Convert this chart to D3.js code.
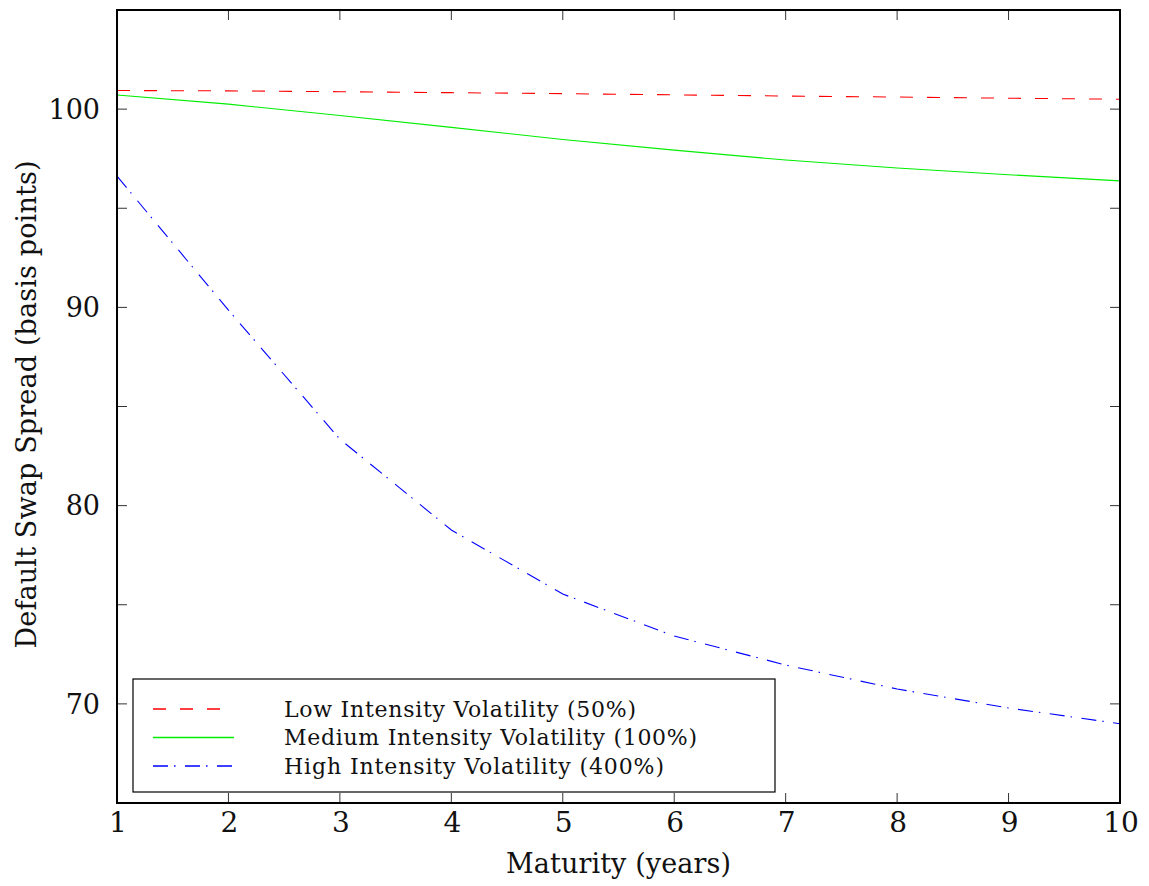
<!DOCTYPE html>
<html>
<head>
<meta charset="utf-8">
<script src="https://cdn.jsdelivr.net/npm/d3@7"></script>
<style>
  body { margin: 0; background: #fff; }
</style>
</head>
<body>
<div id="chart"></div>
<script>
// maturities (years)
const maturity = [1, 2, 3, 4, 5, 6, 7, 8, 9, 10];
// spreads in basis points
const lowVol = [100.94, 100.92, 100.88, 100.83, 100.78, 100.72, 100.66, 100.61, 100.55, 100.50];
const medVol = [100.71, 100.25, 99.68, 99.08, 98.47, 97.93, 97.43, 97.03, 96.69, 96.38];
const highVol = [96.62, 89.86, 83.35, 78.77, 75.54, 73.42, 71.96, 70.75, 69.79, 69.0];

const seriesNames = [
    "Low Intensity Volatility (50%)",
    "Medium Intensity Volatility (100%)",
    "High Intensity Volatility (400%)"
];
const yTickLabels = [70, 80, 90, 100];

const W = 1149, H = 886;
const m = { left: 117, right: 1120, top: 10, bottom: 803 };
const FONT = "'DejaVu Serif', 'Liberation Serif', serif";

const svg = d3.select("#chart").append("svg")
    .attr("width", W).attr("height", H)
    .attr("font-family", FONT);

var x = d3.scaleLinear().domain([1, 10]).range([m.left, m.right]);
var y = d3.scaleLinear().domain([65, 105]).range([m.bottom, m.top]);

// line styles
const styles = [
    { color: "#ff0000", dash: "13,14", data: lowVol },
    { color: "#00ee00", dash: null, data: medVol },
    { color: "#0000ff", dash: "15,6,1.5,9.5", data: highVol }
];

var line = d3.line()
    .x(d => x(d[0]))
    .y(d => y(d[1]));

svg.append("defs").append("clipPath").attr("id", "clip")
    .append("rect")
    .attr("x", m.left).attr("y", m.top)
    .attr("width", m.right - m.left).attr("height", m.bottom - m.top);

const lines = svg.append("g").attr("clip-path", "url(#clip)");
styles.forEach(s => {
    var p = lines.append("path")
        .attr("d", line(d3.zip(maturity, s.data)))
        .attr("fill", "none")
        .attr("stroke", s.color)
        .attr("stroke-width", 1.1);
    if (s.dash) p.attr("stroke-dasharray", s.dash);
});

// ticks, all pointing inward
const tickLen = 10;
const xTicks = maturity;
const yTicks = d3.range(65, 106, 5);

const tk = svg.append("g").attr("stroke", "#333").attr("stroke-width", 1);
xTicks.forEach(t => {
    tk.append("line").attr("x1", x(t)).attr("x2", x(t))
        .attr("y1", m.bottom).attr("y2", m.bottom - tickLen);
    tk.append("line").attr("x1", x(t)).attr("x2", x(t))
        .attr("y1", m.top).attr("y2", m.top + tickLen);
});
yTicks.forEach(t => {
    tk.append("line").attr("y1", y(t)).attr("y2", y(t))
        .attr("x1", m.left).attr("x2", m.left + tickLen);
    tk.append("line").attr("y1", y(t)).attr("y2", y(t))
        .attr("x1", m.right).attr("x2", m.right - tickLen);
});

// frame
svg.append("rect")
    .attr("x", m.left).attr("y", m.top)
    .attr("width", m.right - m.left).attr("height", m.bottom - m.top)
    .attr("fill", "none").attr("stroke", "#000").attr("stroke-width", 2);

// tick labels
svg.append("g").selectAll("text").data(xTicks).enter().append("text")
    .attr("x", d => x(d) + 1).attr("y", 832)
    .attr("text-anchor", "middle")
    .attr("font-size", 28)
    .attr("fill", "#111")
    .text(d => d);

svg.append("g").selectAll("text").data(yTickLabels).enter().append("text")
    .attr("x", m.left - 17).attr("y", d => y(d))
    .attr("dy", "0.36em")
    .attr("text-anchor", "end")
    .attr("font-size", 27)
    .attr("fill", "#111")
    .text(d => d);

// axis titles
svg.append("text")
    .attr("x", (m.left + m.right) / 2).attr("y", 873)
    .attr("text-anchor", "middle")
    .attr("font-size", 27)
    .attr("fill", "#111")
    .attr("textLength", 225)
    .text("Maturity (years)");

svg.append("text")
    .attr("transform", `translate(36,${(m.top + m.bottom) / 2 - 2}) rotate(-90)`)
    .attr("text-anchor", "middle")
    .attr("font-size", 27)
    .attr("fill", "#111")
    .attr("textLength", 488)
    .text("Default Swap Spread (basis points)");

// legend
const lg = svg.append("g");
lg.append("rect")
    .attr("x", 133).attr("y", 679).attr("width", 642).attr("height", 113)
    .attr("fill", "#fff").attr("stroke", "#000").attr("stroke-width", 1.2);

const legendWidths = [352, 413, 380];
styles.forEach((s, i) => {
    var cy = 709 + i * 28.5;
    var l = lg.append("line")
        .attr("x1", 153).attr("x2", 234)
        .attr("y1", cy).attr("y2", cy)
        .attr("stroke", s.color).attr("stroke-width", 1.3);
    if (s.dash) l.attr("stroke-dasharray", s.dash);
    lg.append("text")
        .attr("x", 284).attr("y", cy).attr("dy", "0.35em")
        .attr("font-size", 22)
        .attr("fill", "#111")
        .attr("textLength", legendWidths[i])
        .text(seriesNames[i]);
});
</script>
</body>
</html>
